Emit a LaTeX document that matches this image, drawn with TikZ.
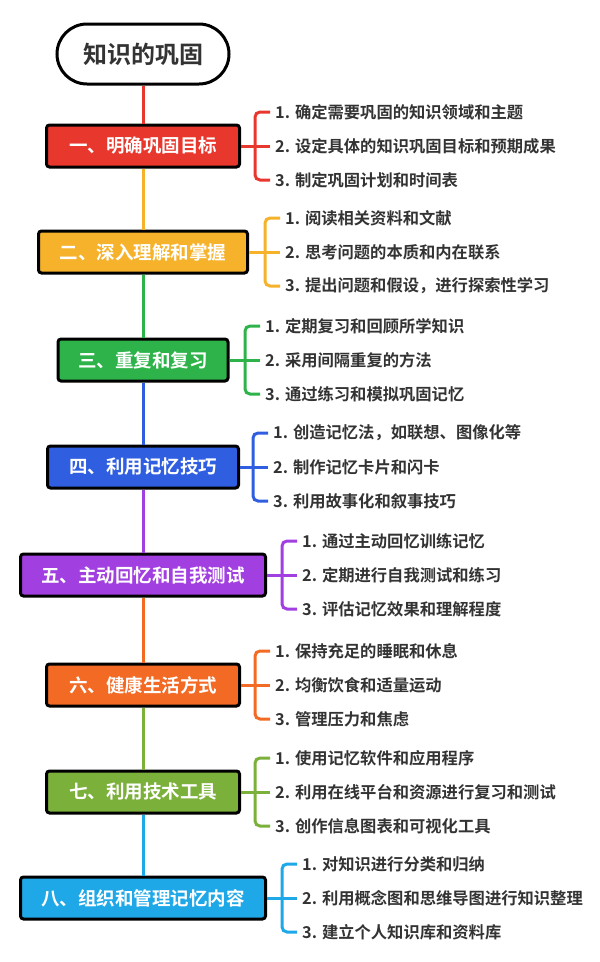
\documentclass[tikz,border=0pt]{standalone}
\usepackage{fontspec}
\setmainfont{Noto Sans CJK SC}[BoldFont={* Bold}]
\newfontfamily\cjkb{Noto Sans CJK SC Bold}
\definecolor{c1}{HTML}{E8382E}
\definecolor{c2}{HTML}{F5B22A}
\definecolor{c3}{HTML}{2DB34A}
\definecolor{c4}{HTML}{2F5FE0}
\definecolor{c5}{HTML}{A23FE0}
\definecolor{c6}{HTML}{F26A24}
\definecolor{c7}{HTML}{7BB03A}
\definecolor{c8}{HTML}{1FA8E8}
\definecolor{tx}{HTML}{333333}
\begin{document}
\begin{tikzpicture}[x=1pt,y=-1pt,
  sec/.style={draw=black,line width=3pt,rounded corners=3pt,text=white,font=\cjkb\fontsize{18.5}{20}\selectfont,anchor=center},
  item/.style={anchor=west,text=tx,font=\cjkb\fontsize{16.3}{18}\selectfont,inner sep=0pt},
  br/.style={line width=3pt,rounded corners=5pt}]
\useasboundingbox (0,0) rectangle (600,962);
\node[draw=black,line width=3pt,rounded corners=30pt,minimum width=172pt,minimum height=60pt,font=\cjkb\fontsize{24}{26}\selectfont,text=tx] (t) at (143,54) {知识的巩固};
\def\sect#1#2#3#4#5#6#7#8#9{%
  \node[sec,fill=#1,minimum width=#3pt,minimum height=42pt] (b#1) at (143,#2) {#4};
  \draw[#1,line width=3pt] (p#1) -- (b#1.north);
  \node[item] (i#1a) at (#5+20,#2-34) {1. #6};
  \node[item] (i#1b) at (#5+20,#2) {2. #7};
  \node[item] (i#1c) at (#5+20,#2+34) {3. #8};
  \draw[br,#1] (b#1.east) -- (#5,#2);
  \draw[br,#1] ([xshift=-5pt]i#1a.west) -| (#5,#2) |- ([xshift=-5pt]i#1c.west);
  \draw[br,#1] (#5,#2) -- ([xshift=-5pt]i#1b.west);
}
\coordinate (pc1) at (t.south);
\sect{c1}{146}{193}{一、明确巩固目标}{255}{确定需要巩固的知识领域和主题}{设定具体的知识巩固目标和预期成果}{制定巩固计划和时间表}{}
\coordinate (pc2) at (bc1.south);
\sect{c2}{252}{209}{二、深入理解和掌握}{265}{阅读相关资料和文献}{思考问题的本质和内在联系}{提出问题和假设，进行探索性学习}{}
\coordinate (pc3) at (bc2.south);
\sect{c3}{360}{170}{三、重复和复习}{245}{定期复习和回顾所学知识}{采用间隔重复的方法}{通过练习和模拟巩固记忆}{}
\coordinate (pc4) at (bc3.south);
\sect{c4}{467}{191}{四、利用记忆技巧}{253}{创造记忆法，如联想、图像化等}{制作记忆卡片和闪卡}{利用故事化和叙事技巧}{}
\coordinate (pc5) at (bc4.south);
\sect{c5}{575}{245}{五、主动回忆和自我测试}{282}{通过主动回忆训练记忆}{定期进行自我测试和练习}{评估记忆效果和理解程度}{}
\coordinate (pc6) at (bc5.south);
\sect{c6}{685}{193}{六、健康生活方式}{255}{保持充足的睡眠和休息}{均衡饮食和适量运动}{管理压力和焦虑}{}
\coordinate (pc7) at (bc6.south);
\sect{c7}{792}{193}{七、利用技术工具}{255}{使用记忆软件和应用程序}{利用在线平台和资源进行复习和测试}{创作信息图表和可视化工具}{}
\coordinate (pc8) at (bc7.south);
\sect{c8}{898}{245}{八、组织和管理记忆内容}{282}{对知识进行分类和归纳}{利用概念图和思维导图进行知识整理}{建立个人知识库和资料库}{}
\end{tikzpicture}
\end{document}
